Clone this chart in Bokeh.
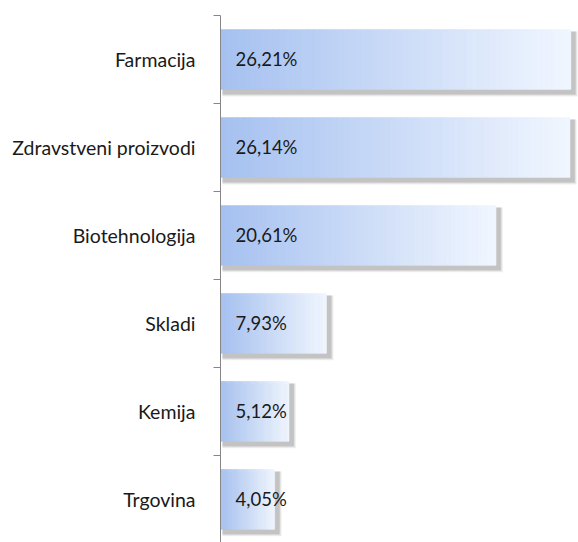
import numpy as np
from bokeh.plotting import figure
from bokeh.models import FixedTicker, ColumnDataSource
from bokeh.core.properties import value
from bokeh.embed import file_html
from bokeh.resources import INLINE

categories = ["Farmacija", "Zdravstveni proizvodi", "Biotehnologija", "Skladi", "Kemija", "Trgovina"]
values = [26.21, 26.14, 20.61, 7.93, 5.12, 4.05]
value_labels = ["26,21%", "26,14%", "20,61%", "7,93%", "5,12%", "4,05%"]

n = len(categories)
centers = [n - i - 0.5 for i in range(n)]
boundaries = list(range(0, n + 1))

FONT = "Lato"
p = figure(width=578, height=542, output_backend="svg", toolbar_location=None,
           x_range=(0, 26.8), y_range=(0.01, 6.0),
           min_border_left=220, min_border_right=0, min_border_top=15, min_border_bottom=0)
p.outline_line_color = None
p.xaxis.visible = False
p.xgrid.visible = False
p.ygrid.visible = False
p.background_fill_color = "white"
p.border_fill_color = "white"

ax = p.yaxis[0]
ax.ticker = FixedTicker(ticks=centers, minor_ticks=boundaries)
ax.major_label_overrides = {c: cat for c, cat in zip(centers, categories)}
ax.major_tick_line_color = None
ax.major_tick_in = 0
ax.major_tick_out = 0
ax.minor_tick_in = 0
ax.minor_tick_out = 7
ax.minor_tick_line_color = "#868686"
ax.axis_line_color = "#868686"
ax.major_label_standoff = 18
ax.major_label_text_font = FONT
ax.major_label_text_font_size = "19.5px"
ax.major_label_text_color = "#1a1a1a"

bh = 0.68
# shadow
px_x = 26.8 / 358.0
px_y = 6.0 / 528.0
for k, a in enumerate([0.10, 0.14, 0.24]):
    spread = 3 - k
    p.quad(left=[0 + 2 * px_x] * n,
           right=[v + (4 + spread) * px_x for v in values],
           top=[c + bh / 2 - (2) * px_y for c in centers],
           bottom=[c - bh / 2 - (4 + spread) * px_y for c in centers],
           fill_color="#6e6e6e", fill_alpha=a, line_color=None)

# gradient bars
N = 60
c0 = np.array([166, 193, 240])
c1 = np.array([240, 246, 255])
L, R, T, B, C = [], [], [], [], []
for v, c in zip(values, centers):
    for i in range(N):
        t = i / (N - 1)
        col = c0 + (c1 - c0) * t
        L.append(v * i / N)
        R.append(v * (i + 1) / N + v / N * 0.05)
        T.append(c + bh / 2)
        B.append(c - bh / 2)
        C.append("#%02x%02x%02x" % tuple(int(round(x)) for x in col))
src = ColumnDataSource(dict(left=L, right=R, top=T, bottom=B, color=C))
p.quad(left="left", right="right", top="top", bottom="bottom", fill_color="color",
       line_color="color", line_width=0.5, source=src)

tsrc = ColumnDataSource(dict(x=[0] * n, y=centers, text=value_labels))
p.text(x="x", y="y", text="text", source=tsrc, x_offset=15, text_baseline="middle",
       text_align="left", text_font=value(FONT), text_font_size="18.5px", text_color="#1a1a1a")

open("out.html", "w").write(file_html(p, INLINE))
